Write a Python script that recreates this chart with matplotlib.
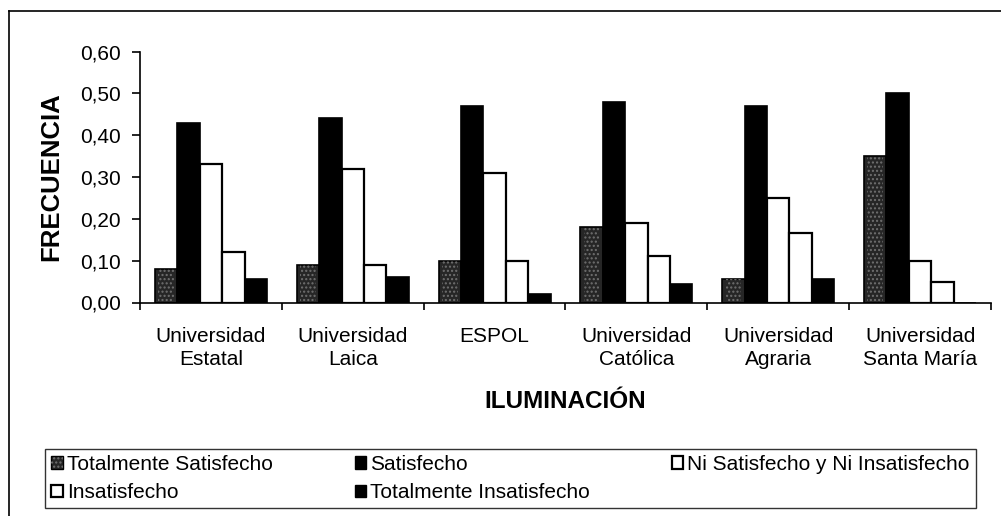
import matplotlib
matplotlib.use("Agg")
import matplotlib.pyplot as plt
import numpy as np
from matplotlib.lines import Line2D
from matplotlib.patches import Patch

plt.rcParams["font.family"] = ["Liberation Sans", "DejaVu Sans"]

universidades = ["Universidad\nEstatal", "Universidad\nLaica", "ESPOL",
                 "Universidad\nCatólica", "Universidad\nAgraria", "Universidad\nSanta María"]
series_names = ["Totalmente Satisfecho", "Satisfecho", "Ni Satisfecho y Ni Insatisfecho",
                "Insatisfecho", "Totalmente Insatisfecho"]

tot_satisfecho = [0.08, 0.09, 0.10, 0.18, 0.055, 0.35]
satisfecho = [0.43, 0.44, 0.47, 0.48, 0.47, 0.50]
ni_ni = [0.33, 0.32, 0.31, 0.19, 0.25, 0.10]
insatisfecho = [0.12, 0.09, 0.10, 0.11, 0.165, 0.05]
tot_insatisfecho = [0.055, 0.06, 0.02, 0.045, 0.055, 0.0]

y_ticks = [0.0, 0.1, 0.2, 0.3, 0.4, 0.5, 0.6]

W, H = 1001, 516
fig = plt.figure(figsize=(W / 100, H / 100), dpi=100)
ax = fig.add_axes([140 / W, 1 - 302.5 / H, 851 / W, 251 / H])

x = np.arange(len(universidades))
bw = 0.158
offsets = (np.arange(5) - 2) * bw

# dark speckled bar: base + dotted overlay
ax.bar(x + offsets[0], tot_satisfecho, bw, color="#262626", edgecolor="black", linewidth=1.2)
ax.bar(x + offsets[0], tot_satisfecho, bw * 0.7, facecolor="none", edgecolor="#707070",
       hatch="....", linewidth=0)
ax.bar(x + offsets[1], satisfecho, bw, color="black", edgecolor="black", linewidth=1.2)
ax.bar(x + offsets[2], ni_ni, bw, color="white", edgecolor="black", linewidth=1.6)
ax.bar(x + offsets[3], insatisfecho, bw, color="white", edgecolor="black", linewidth=1.6)
ax.bar(x + offsets[4], tot_insatisfecho, bw, color="black", edgecolor="black", linewidth=1.2)

ax.set_xlim(-0.5, len(universidades) - 0.5)
ax.set_ylim(0, 0.6)
ax.set_yticks(y_ticks)
ax.set_yticklabels([f"{v:.2f}".replace(".", ",") for v in y_ticks], fontsize=15)
ax.set_xticks(x)
ax.set_xticklabels(universidades, fontsize=15, linespacing=1.25)
ax.set_xticks(np.arange(len(universidades) + 1) - 0.5, minor=True)
ax.tick_params(axis="x", which="major", length=0, pad=18)
ax.tick_params(axis="x", which="minor", length=5, width=1.2, direction="out")
ax.tick_params(axis="y", length=6, width=1.2, pad=8)

for s in ["top", "right"]:
    ax.spines[s].set_visible(False)
for s in ["left", "bottom"]:
    ax.spines[s].set_linewidth(1.2)

ax.set_ylabel("FRECUENCIA", fontsize=18.5, fontweight="bold", labelpad=12)
ax.set_xlabel("ILUMINACIÓN", fontsize=17.5, fontweight="bold", labelpad=15)

# legend (column-major order to get row-wise layout)
h_ts = (Patch(facecolor="#262626", edgecolor="black"),
        Patch(facecolor="none", edgecolor="#707070", hatch="....", linewidth=0))
h_s = Patch(facecolor="black", edgecolor="black")
h_ni = Patch(facecolor="white", edgecolor="black", linewidth=1.6)
h_ins = Patch(facecolor="white", edgecolor="black", linewidth=1.6)
h_ti = Patch(facecolor="black", edgecolor="black")
handles = [h_ts, h_ins, h_s, h_ti, h_ni]
labels = [series_names[0], series_names[3], series_names[1], series_names[4], series_names[2]]
leg = fig.legend(handles, labels, ncol=3, mode="expand",
                 bbox_to_anchor=(45 / W, 1 - 512 / H, 931 / W, 67 / H), loc="center",
                 fontsize=15, frameon=True, fancybox=False, edgecolor="black",
                 handlelength=0.55, handleheight=0.55, handletextpad=0.2,
                 labelspacing=0.45, borderpad=0.3, borderaxespad=0)
leg.get_frame().set_linewidth(1.0)

# outer chart frame
fig.add_artist(Line2D([9 / W, 1], [1 - 11 / H, 1 - 11 / H], color="black", lw=1.2))
fig.add_artist(Line2D([9 / W, 9 / W], [0, 1 - 11 / H], color="black", lw=1.2))

fig.savefig("out.png", dpi=100)
